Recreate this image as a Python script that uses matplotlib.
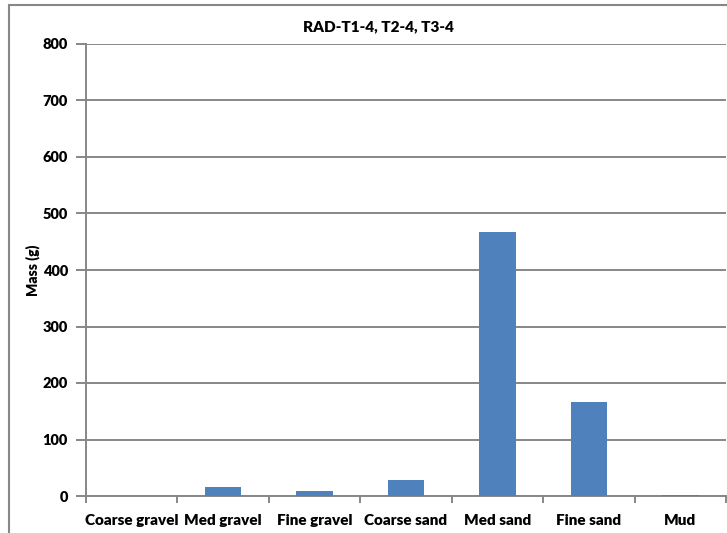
import matplotlib.pyplot as plt
import numpy as np
from matplotlib.patches import Rectangle

# data
categories = ['Coarse gravel', 'Med gravel', 'Fine gravel', 'Coarse sand',
              'Med sand', 'Fine sand', 'Mud']
mass = [0, 16, 9, 29, 467, 166, 1]
yticks = [0, 100, 200, 300, 400, 500, 600, 700, 800]

grey = '#878787'
bar_color = '#4F81BD'

plt.rcParams['font.family'] = ['Lato', 'DejaVu Sans']
plt.rcParams['font.weight'] = 'heavy'


def main():
    fig = plt.figure(figsize=(7.27, 5.33), dpi=100)
    ax = fig.add_axes([86 / 727, 1 - 496 / 533, 640 / 727, 452 / 533])

    # outer chart border (cropped at right and bottom)
    fig.patches.append(Rectangle((9 / 727, -0.1), 1.2, 1 - 5 / 533 + 0.1,
                                 transform=fig.transFigure, fill=False,
                                 edgecolor=grey, linewidth=1.5))

    x = np.arange(len(categories))
    ax.bar(x, mass, width=0.4, color=bar_color, zorder=3)

    ax.set_xlim(-0.5, len(categories) - 0.5)
    ax.set_ylim(0, 800)
    ax.set_yticks(yticks)
    ax.set_yticklabels([str(v) for v in yticks], fontsize=10.5, fontweight='heavy')
    ax.yaxis.grid(True, color=grey, linewidth=1.4, zorder=0)

    # category labels in the middle, tick marks on the boundaries
    ax.set_xticks(x)
    ax.set_xticklabels(categories, fontsize=11, fontweight='heavy')
    ax.tick_params(axis='x', length=0, pad=13)
    ax.set_xticks(np.arange(len(categories) + 1) - 0.5, minor=True)
    ax.tick_params(axis='x', which='minor', length=5, color=grey, width=1.4)
    ax.tick_params(axis='y', length=7, color=grey, width=1.4, pad=6)

    for spine in ['top', 'right']:
        ax.spines[spine].set_visible(False)
    for spine in ['left', 'bottom']:
        ax.spines[spine].set_color(grey)
        ax.spines[spine].set_linewidth(1.4)

    ax.set_ylabel('Mass (g)', fontsize=10, fontweight='heavy', labelpad=2)
    fig.text(0.52, 1 - 27 / 533, 'RAD-T1-4, T2-4, T3-4', ha='center',
             va='center', fontsize=11, fontweight='heavy')

    fig.savefig('out.png', dpi=100)


if __name__ == '__main__':
    main()
